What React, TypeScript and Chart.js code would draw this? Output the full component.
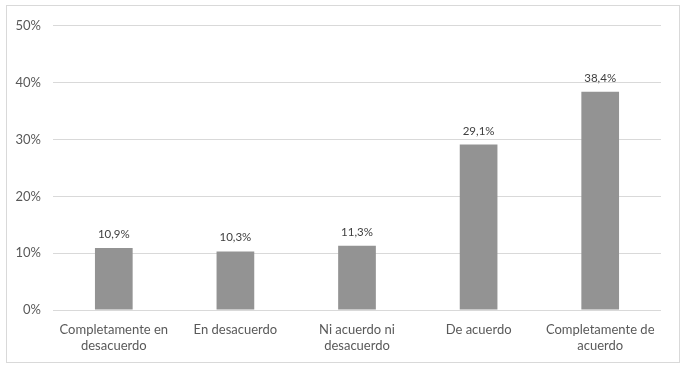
import React, { useEffect, useRef } from "react";
import { Chart, registerables } from "chart.js";

Chart.register(...registerables);

const categories: string[][] = [
  ["Completamente en", "desacuerdo"],
  ["En desacuerdo"],
  ["Ni acuerdo ni", "desacuerdo"],
  ["De acuerdo"],
  ["Completamente de", "acuerdo"],
];
const values: number[] = [10.9, 10.3, 11.3, 29.1, 38.4];
const valueLabels: string[] = ["10,9%", "10,3%", "11,3%", "29,1%", "38,4%"];
const yTicks: number[] = [0, 10, 20, 30, 40, 50];

const FONT = "Lato, 'Liberation Sans', sans-serif";

const dataLabelPlugin = {
  id: "dataLabels",
  afterDatasetsDraw(chart: any) {
    const ctx = chart.ctx;
    const meta = chart.getDatasetMeta(0);
    ctx.save();
    ctx.font = `11.5px ${FONT}`;
    ctx.fillStyle = "#404040";
    ctx.textAlign = "center";
    ctx.textBaseline = "bottom";
    meta.data.forEach((bar: any, i: number) => {
      ctx.fillText(valueLabels[i], bar.x, bar.y - 8);
    });
    ctx.restore();
  },
};

export default function App() {
  const ref = useRef<HTMLCanvasElement>(null);
  useEffect(() => {
    if (!ref.current) return;
    const chart = new Chart(ref.current, {
      type: "bar",
      data: {
        labels: categories,
        datasets: [
          {
            data: values,
            backgroundColor: "#939393",
            barPercentage: 0.62,
            categoryPercentage: 0.5,
          },
        ],
      },
      options: {
        animation: false,
        responsive: false,
        maintainAspectRatio: false,
        layout: { padding: { top: 16, right: 18, left: 0, bottom: 0 } },
        plugins: { legend: { display: false }, tooltip: { enabled: false } },
        scales: {
          x: {
            grid: { display: false },
            border: { display: false },
            ticks: {
              color: "#595959",
              font: { family: FONT, size: 13 },
              maxRotation: 0,
              autoSkip: false,
              padding: 4,
            },
            afterFit: (s: any) => {
              s.height = 52;
            },
          },
          y: {
            min: 0,
            max: 50,
            afterBuildTicks: (s: any) => {
              s.ticks = yTicks.map((v) => ({ value: v }));
            },
            grid: { color: "#d9d9d9", drawTicks: false },
            border: { display: false },
            ticks: {
              color: "#595959",
              font: { family: FONT, size: 13 },
              padding: 12,
              callback: (v: any) => `${v}%`,
            },
            afterFit: (s: any) => {
              s.width = 46;
            },
          },
        },
      },
      plugins: [dataLabelPlugin],
    });
    return () => chart.destroy();
  }, []);
  return (
    <div style={{ position: "fixed", left: 0, top: 0, width: 686, height: 368, background: "#fff" }}>
      <div
        style={{
          position: "absolute",
          left: 6,
          top: 5,
          width: 672,
          height: 356,
          border: "1px solid #d9d9d9",
        }}
      >
        <canvas ref={ref} width={672} height={356} style={{ display: "block" }} />
      </div>
    </div>
  );
}
